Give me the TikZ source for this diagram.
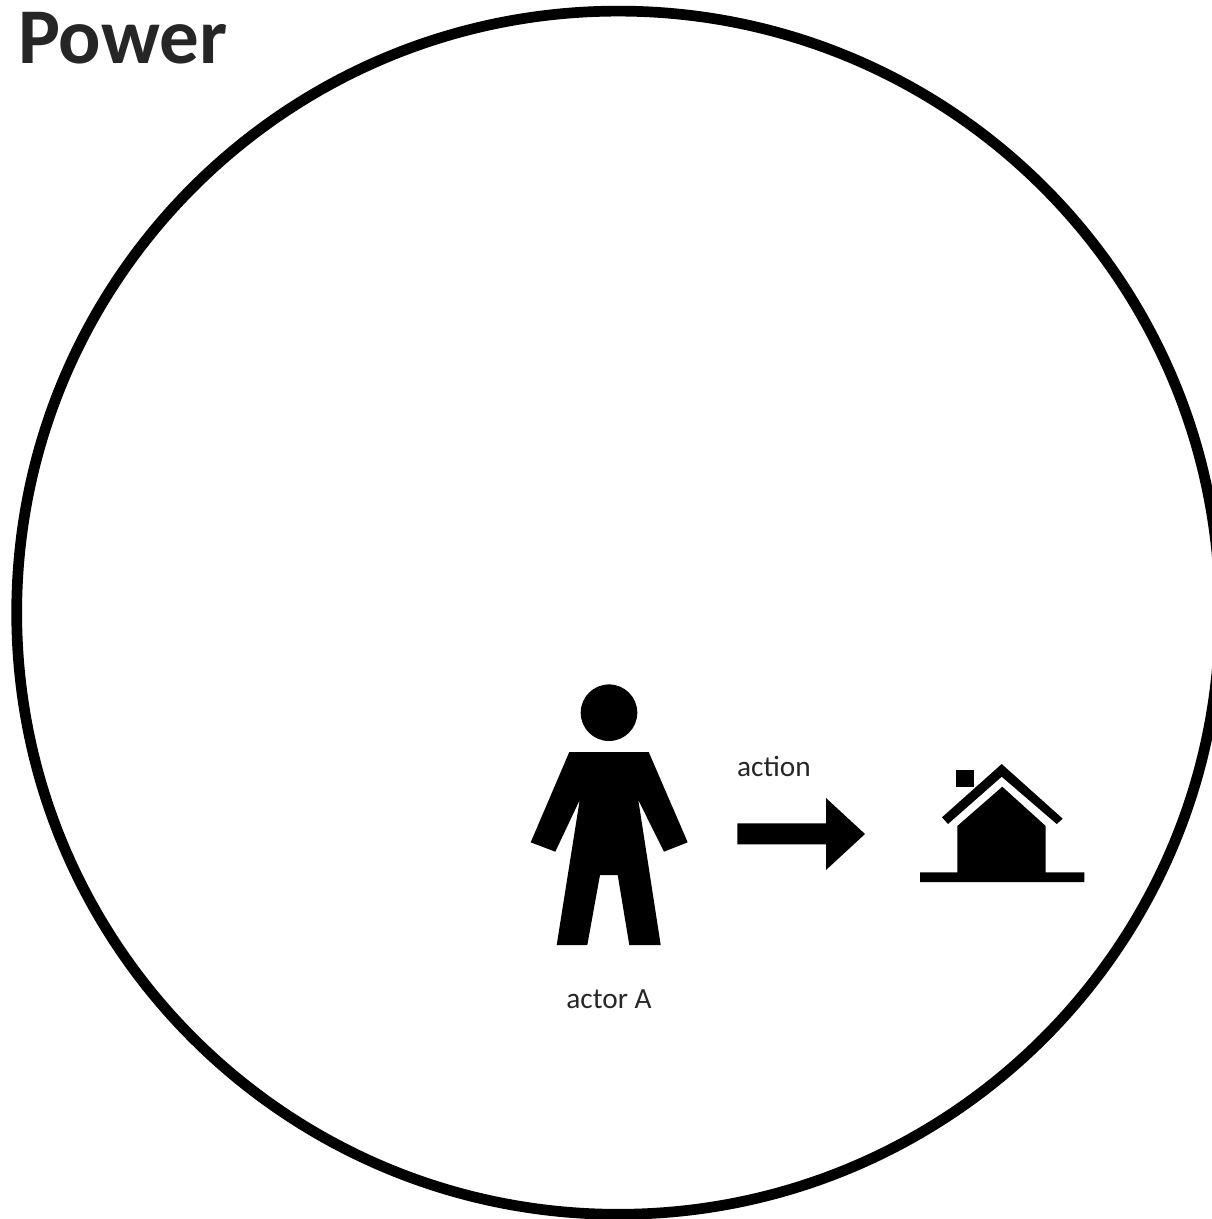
\documentclass[tikz,border=0pt]{standalone}
\usepackage{fontspec}
\setmainfont{Carlito}
\usepackage{xcolor}
\definecolor{labelgray}{HTML}{262626}
\tikzset{
  % --- black pictogram shapes ---
  glyph/.style={fill=black, draw=none},
  % --- texts ---
  titlelabel/.style={font=\fontsize{79}{79}\selectfont\bfseries, text=labelgray, inner sep=0pt, anchor=base west},
  caption/.style={font=\fontsize{29.3}{29.3}\selectfont, text=labelgray, inner sep=0pt, anchor=base},
  boundary/.style={draw=black, line width=10.7pt},
}
\begin{document}
\begin{tikzpicture}[x=1pt, y=-1pt]
    \useasboundingbox (0,0) rectangle (1212,1219);
    \begin{scope}
      \clip (0,0) rectangle (1212,1219);
      % system boundary
      \draw[boundary] (618.3,612.7) circle (601.6);
    \end{scope}
    % title
    \node[titlelabel] (title) at (18,63.5) {Power};
    % actor
    \fill[glyph] (609,712.7) circle (28.3);
    \fill[glyph] (569.3,752) -- (648.7,752) -- (687.7,842.3) -- (664,851.7) -- (638.3,800)
      -- (660.7,945) -- (629.3,945) -- (617.7,875) -- (600,875) -- (587.3,945)
      -- (556.7,945) -- (579.7,800) -- (555.3,851.7) -- (530.7,842.3) -- cycle;
    \node[caption] (actorlabel) at (609,1008) {actor A};
    % action arrow
    \node[caption] (actionlabel) at (774,776) {action};
    \fill[glyph] (737.3,823.3) -- (826,823.3) -- (826,798) -- (865,834) -- (826,870)
      -- (826,844.3) -- (737.3,844.3) -- cycle;
    % house
    \fill[glyph] (1001.7,764) -- (1062.7,818.7) -- (1056.7,824) -- (1001.7,776.7)
      -- (948,824) -- (942,817.3) -- cycle;
    \fill[glyph] (956.3,770.3) rectangle (973.7,786.7);
    \fill[glyph] (1002.3,786.7) -- (1045.7,826) -- (1045.7,872.3) -- (1084.3,872.3)
      -- (1084.3,882) -- (920,882) -- (920,872.3) -- (957.3,872.3) -- (957.3,826) -- cycle;
\end{tikzpicture}
\end{document}
